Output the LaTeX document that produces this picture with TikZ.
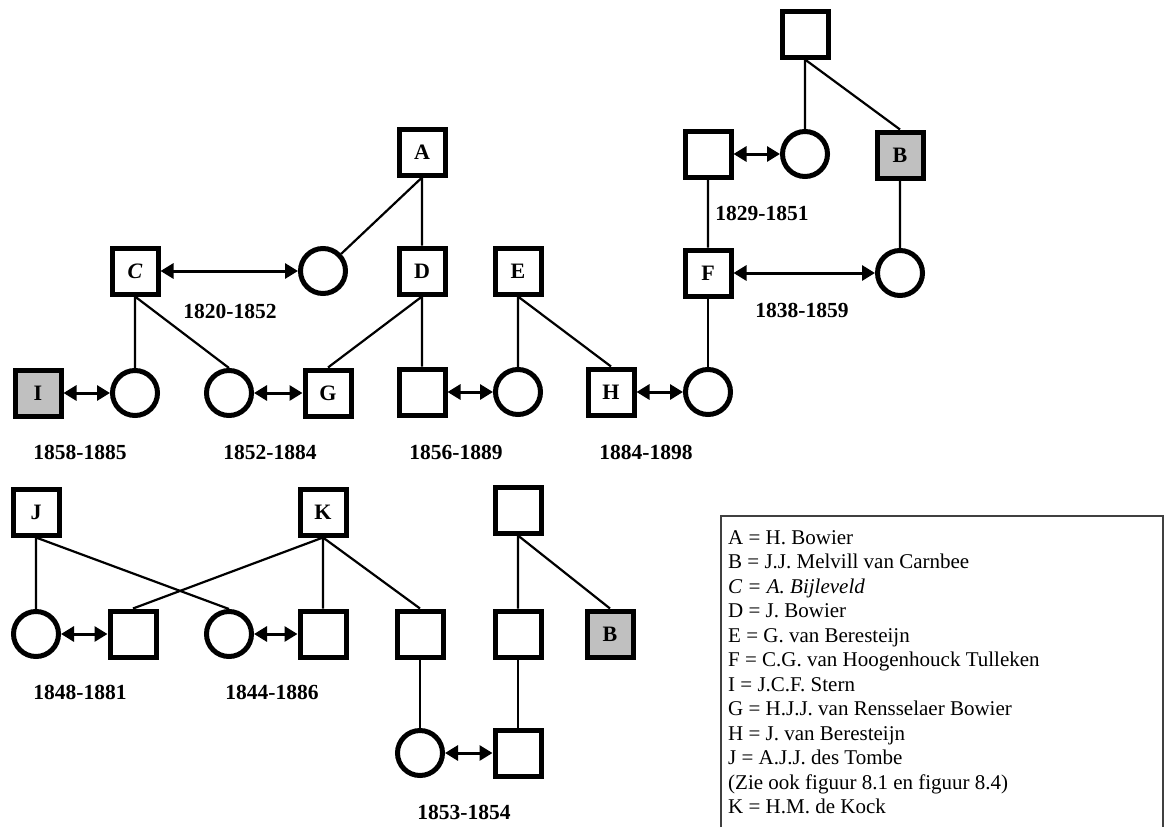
\documentclass[tikz,border=0pt]{standalone}
\usepackage{fontspec}
\setmainfont{Liberation Serif}
\usetikzlibrary{arrows.meta,positioning}
\definecolor{mgray}{HTML}{C0C0C0}
\definecolor{mframe}{HTML}{404040}
\tikzstyle{man}=[rectangle, draw=black, minimum size=46pt, line width=5pt, inner sep=0pt, fill=white, font=\fontsize{22}{26}\selectfont\bfseries]
\tikzstyle{woman}=[circle, draw=black, minimum size=45pt, line width=5pt, inner sep=0pt, fill=white]
\tikzstyle{known}=[man, fill=mgray]
\tikzstyle{l1}=[line width=2.2pt]
\tikzstyle{wed}=[line width=3pt, {Triangle[length=13pt,width=15pt]}-{Triangle[length=13pt,width=15pt]}]
\tikzstyle{years}=[font=\fontsize{21.5}{26}\selectfont\bfseries]
\tikzstyle{legend}=[anchor=base west, inner sep=0pt, font=\fontsize{21}{24}\selectfont]

\begin{document}
\begin{tikzpicture}[x=1pt, y=-1pt]
    \useasboundingbox (0,0) rectangle (1166,827);

    % top right family
    \node (p0) [man] at (805, 34) {};
    \node (f1) [man] at (708,154) {};
    \node (m1) [woman] at (805,154) {};
    \node (b1) [known] at (900,155) {B};
    \node (F) [man] at (708,273) {F};
    \node (w3) [woman] at (900,273) {};
    \draw[l1] (p0) -- (m1) (p0.south) -- (b1.north) (b1) -- (w3) (f1) -- (F);
    \draw[wed] (f1) -- (m1);
    \draw[wed] (F) -- (w3);
    \node (y1) [years] at (762,213) {1829-1851};
    \node (y2) [years] at (802,310) {1838-1859};

    % upper middle
    \node (A) [man] at (422,152) {A};
    \node (C) [man] at (135,271) {\itshape C};
    \node (w1) [woman] at (323,271) {};
    \node (D) [man] at (422,271) {D};
    \node (E) [man] at (518,271) {E};
    \draw[l1] (A.south) -- (w1) (A) -- (D);
    \draw[wed] (C) -- (w1);
    \node (y3) [years] at (230,311) {1820-1852};

    % row of couples
    \node (I) [known] at (38,393) {I};
    \node (c1) [woman] at (135,393) {};
    \node (c2) [woman] at (229,393) {};
    \node (G) [man] at (328,393) {G};
    \node (s1) [man] at (422,392) {};
    \node (e1) [woman] at (518,392) {};
    \node (H) [man] at (611,392) {H};
    \node (f2) [woman] at (708,392) {};
    \draw[l1] (C) -- (c1) (C.south) -- (c2.north);
    \draw[l1] (D.south) -- (G.north) (D) -- (s1);
    \draw[l1] (E) -- (e1) (E.south) -- (H.north);
    \draw[l1] (F) -- (f2);
    \draw[wed] (I) -- (c1);
    \draw[wed] (c2) -- (G);
    \draw[wed] (s1) -- (e1);
    \draw[wed] (H) -- (f2);
    \node (y4) [years] at (80,452) {1858-1885};
    \node (y5) [years] at (270,452) {1852-1884};
    \node (y6) [years] at (456,452) {1856-1889};
    \node (y7) [years] at (646,452) {1884-1898};

    % lower part
    \node (J) [man] at (36,512) {J};
    \node (K) [man] at (323,512) {K};
    \node (t1) [man] at (518,510) {};
    \node (j1) [woman] at (36,634) {};
    \node (k1) [man] at (133,634) {};
    \node (j2) [woman] at (229,634) {};
    \node (k2) [man] at (323,634) {};
    \node (k3) [man] at (420,634) {};
    \node (t2) [man] at (518,634) {};
    \node (b2) [known] at (610,634) {B};
    \node (k4) [woman] at (420,753) {};
    \node (t3) [man] at (518,753) {};
    \draw[l1] (J) -- (j1) (J.south) -- (j2.north);
    \draw[l1] (K.south) -- (k1.north) (K) -- (k2) (K.south) -- (k3.north);
    \draw[l1] (t1) -- (t2) (t1.south) -- (b2.north);
    \draw[l1] (k3) -- (k4) (t2) -- (t3);
    \draw[wed] (j1) -- (k1);
    \draw[wed] (j2) -- (k2);
    \draw[wed] (k4) -- (t3);
    \node (y8) [years] at (80,692) {1848-1881};
    \node (y9) [years] at (272,692) {1844-1886};
    \node (y10) [years] at (464,812) {1853-1854};

    % legend
    \draw[mframe, line width=1.5pt] (721,827) -- (721,516) -- (1163,516) -- (1163,827);
    \foreach \txt [count=\i from 0] in {A = H. Bowier, B = J.J. Melvill van Carnbee,
        {\itshape C = A. Bijleveld}, D = J. Bowier, E = G. van Beresteijn,
        F = C.G. van Hoogenhouck Tulleken, I = J.C.F. Stern,
        G = H.J.J. van Rensselaer Bowier, H = J. van Beresteijn,
        J = A.J.J. des Tombe, (Zie ook figuur 8.1 en figuur 8.4), K = H.M. de Kock}
        \node (leg\i) [legend] at (728, 544+24.5*\i) {\txt};
\end{tikzpicture}
\end{document}
